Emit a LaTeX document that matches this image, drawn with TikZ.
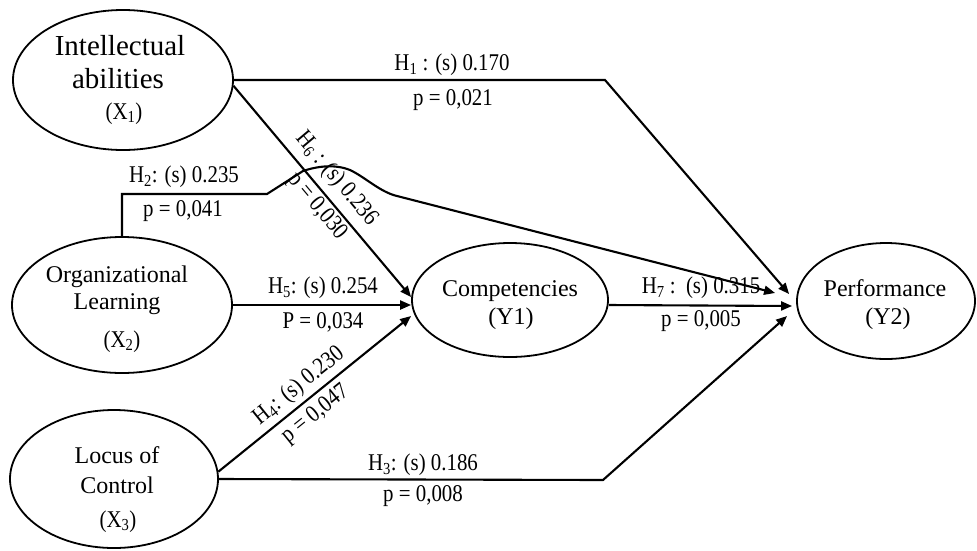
\documentclass[tikz,border=0pt]{standalone}
\usepackage{fontspec}
\usepackage{graphicx}
\setmainfont{Liberation Serif}
\usetikzlibrary{shapes.geometric,arrows.meta}
\newcommand{\cnd}[1]{\scalebox{0.87}[1]{#1}}
\begin{document}
\begin{tikzpicture}[x=1pt,y=-1pt,
  ell/.style={draw, ellipse, line width=1.8pt, inner sep=0pt},
  conn/.style={line width=2.1pt, -{Triangle[length=11pt,width=9pt]}},
  bigtxt/.style={font=\fontsize{29}{33}\selectfont, inner sep=0pt, anchor=base},
  midtxt/.style={font=\fontsize{24}{26}\selectfont, inner sep=0pt, anchor=base},
  subtxt/.style={font=\fontsize{24}{26}\selectfont, inner sep=0pt, anchor=base},
  lab/.style={font=\fontsize{24}{26}\selectfont, inner sep=0pt},
]
\useasboundingbox (0,0) rectangle (977,550);

% ellipses
\node[ell, minimum width=220pt, minimum height=140pt] (X1) at (123,80) {};
\node[ell, minimum width=220pt, minimum height=136pt] (X2) at (122,305) {};
\node[ell, minimum width=208pt, minimum height=138pt] (X3) at (114,479) {};
\node[ell, minimum width=196pt, minimum height=114pt] (Y1) at (510,300) {};
\node[ell, minimum width=178pt, minimum height=116pt] (Y2) at (886,301) {};

% ellipse texts
\node[bigtxt] (X1a) at (120,55) {Intellectual};
\node[bigtxt] (X1b) at (118,88) {abilities};
\node[subtxt] (X1c) at (124,119) {\cnd{(X\textsubscript{1})}};

\node[midtxt] (X2a) at (117,282) {Organizational};
\node[midtxt] (X2b) at (117,309) {Learning};
\node[subtxt] (X2c) at (122,347) {\cnd{(X\textsubscript{2})}};

\node[midtxt] (X3a) at (117,463) {Locus of};
\node[midtxt] (X3b) at (117,493) {Control};
\node[subtxt] (X3c) at (118,527) {\cnd{(X\textsubscript{3})}};

\node[midtxt] (Y1a) at (510,296) {Competencies};
\node[midtxt] (Y1b) at (511,324) {(Y1)};

\node[midtxt] (Y2a) at (885,296) {Performance};
\node[midtxt] (Y2b) at (888,324) {(Y2)};

% corner coordinates
\coordinate (c1) at (605,80);
\coordinate (c3) at (603,480);
\coordinate (c2a) at (267,194);
\coordinate (c2b) at (303,171);
\coordinate (c2c) at (350,170);
\coordinate (c2d) at (397,196);

% H1
\draw[conn] (X1.east) -- (c1) -- ([shift={(-7pt,7pt)}]Y2.west);
% H6
\draw[conn] (X1.-3) -- node[lab, pos=0.5, sloped, above=7pt] (l6a) {\cnd{H\textsubscript{6} : (s) 0.236}}
  node[lab, pos=0.53, sloped, below=2pt] (l6b) {\cnd{p = 0,030}} ([yshift=3pt]Y1.west);
% H2
\draw[conn] (X2.north) |- (c2a) -- (c2b)
  .. controls (318,166) and (335,164) .. (c2c)
  .. controls (365,177) and (380,192) .. (c2d)
  -- ([shift={(-21pt,8pt)}]Y2.west);
% H5
\draw[conn] (X2.east) -- (X2.east -| Y1.west);
% H4
\draw[conn] (X3.4) -- node[lab, pos=0.47, sloped, above=4pt] (l4a) {\cnd{H\textsubscript{4}: (s) 0.230}}
  node[lab, pos=0.45, sloped, below=5pt] (l4b) {\cnd{p = 0,047}} ([yshift=-16pt]Y1.west);
% H3
\draw[conn] (X3.east) -- (c3) -- ([shift={(-9pt,-15pt)}]Y2.west);
% H7
\draw[conn] ([yshift=-5pt]Y1.east) -- ([shift={(-4pt,-5pt)}]Y2.west);

% horizontal labels
\node[lab] (l1a) at (452,65) {\cnd{H\textsubscript{1} : (s) 0.170}};
\node[lab] (l1b) at (453,100) {\cnd{p = 0,021}};
\node[lab] (l2a) at (184,177) {\cnd{H\textsubscript{2}: (s) 0.235}};
\node[lab] (l2b) at (183,211) {\cnd{p = 0,041}};
\node[lab] (l5a) at (323,288) {\cnd{H\textsubscript{5}: (s) 0.254}};
\node[lab] (l5b) at (323,322) {\cnd{P = 0,034}};
\node[lab] (l7a) at (701,288) {\cnd{H\textsubscript{7} :\ \ (s) 0.315}};
\node[lab] (l7b) at (701,321) {\cnd{p = 0,005}};
\node[lab] (l3a) at (423,465) {\cnd{H\textsubscript{3}: (s) 0.186}};
\node[lab] (l3b) at (423,496) {\cnd{p = 0,008}};
\end{tikzpicture}
\end{document}
